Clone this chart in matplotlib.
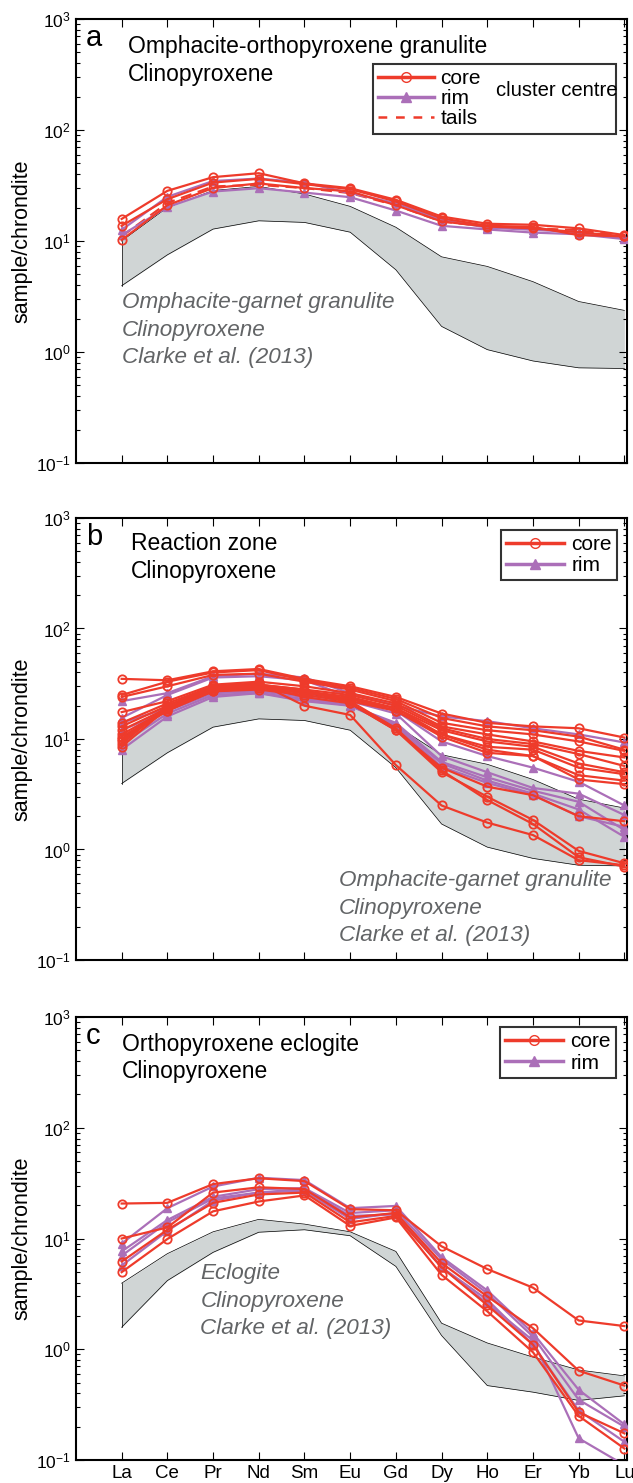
import numpy as np
import matplotlib
matplotlib.use('Agg')
import matplotlib.pyplot as plt
from matplotlib.lines import Line2D

plt.rcParams['font.family'] = ['Liberation Sans', 'DejaVu Sans']
plt.rcParams['mathtext.fontset'] = 'custom'
plt.rcParams['mathtext.rm'] = 'Liberation Sans'

elements = ['La', 'Ce', 'Pr', 'Nd', 'Sm', 'Eu', 'Gd', 'Dy', 'Ho', 'Er', 'Yb', 'Lu']

# Clarke et al. (2013) reference envelopes
granulite_hi = [10, 20, 28.5, 31, 26.5, 20.5, 13.3, 7.2, 5.9, 4.3, 2.85, 2.37]
granulite_lo = [3.95, 7.5, 12.8, 15.2, 14.7, 12.0, 5.5, 1.7, 1.05, 0.83, 0.72, 0.71]
eclogite_hi = [3.95, 7.3, 11.5, 14.9, 13.5, 11.5, 7.65, 1.72, 1.14, 0.85, 0.65, 0.575]
eclogite_lo = [1.58, 4.17, 7.5, 11.4, 12.0, 10.6, 5.6, 1.33, 0.47, 0.41, 0.345, 0.38]

# panel a: omphacite-orthopyroxene granulite (cluster centres and tails)
a_core = [
    [15.8, 28.3, 37.6, 40.8, 33, 29.9, 23.5, 16.6, 14.3, 14.0, 13.0, 11.3],
    [13.7, 23.8, 33.6, 36.3, 32.5, 29.3, 22.7, 16.0, 13.7, 13.4, 11.3, 11.0],
    [10.2, 21, 30, 33, 30, 28, 21, 15, 13.5, 13, 12, 11],
]
a_rim = [
    [12.6, 25, 34.7, 36.5, 33.6, 27, 21.9, 15.5, 13.2, 12.6, 12, 10.6],
    [11.3, 20.2, 27.9, 29.9, 27.3, 24.8, 18.8, 13.7, 12.7, 11.9, 11.5, 10.4],
]
a_tails = [11, 22, 31, 32, 30, 27, 21, 15, 13.5, 13, 12.5, 11]

# panel b: reaction zone
b_core = [
    [35, 34, 41, 43, 35, 30, 24, 17, 14, 13, 12.5, 10.3],
    [25, 33, 40, 42, 34, 29, 23, 15.5, 13, 12, 10.5, 8],
    [24, 30, 38, 39, 33, 28, 22, 14, 12, 11, 9.5, 7.8],
    [17.5, 22, 31, 33, 30, 26, 21, 13, 11, 9.5, 7.8, 6.8],
    [14, 21, 30, 31, 28, 25, 20, 12.5, 10, 9, 7.3, 5.7],
    [13, 20, 29, 30, 27, 24, 19, 12, 9.5, 8.5, 6, 5],
    [12, 19, 28, 30, 27, 23, 19, 11, 8.5, 8, 5.5, 4.8],
    [11, 18.5, 27, 29, 26, 23, 18, 11, 8, 7, 4.7, 4.2],
    [10, 18, 27, 28, 25, 22, 18, 10.5, 7.5, 7, 4.3, 3.9],
    [9.5, 19, 28, 30, 24, 21, 12, 5.5, 3.7, 3.1, 2.0, 1.8],
    [9, 20, 30, 32, 20, 16.5, 5.8, 2.5, 1.75, 1.35, 0.8, 0.72],
    [8.5, 19, 29, 31, 28, 21, 12, 5, 3, 1.85, 0.97, 0.75],
    [10.5, 18, 28, 31, 27, 22, 12.5, 5.2, 2.8, 1.7, 0.85, 0.7],
]
b_rim = [
    [22, 26, 37, 39, 36, 26, 20, 16, 14.5, 12.5, 11, 9.3],
    [15.5, 25, 36, 37, 34, 24, 18, 9.5, 7, 5.5, 4.1, 2.5],
    [14, 19, 27, 28, 25, 22, 17, 7, 5, 3.6, 3.2, 2.05],
    [12, 18, 26, 27, 24, 20, 14, 6.2, 4.5, 3.4, 2.7, 1.5],
    [9, 17, 25, 26, 23, 20, 13.5, 6, 4.2, 3.2, 2.3, 1.3],
    [8, 16, 24, 26, 22, 20, 13, 5.6, 4.0, 3.1, 2.0, 1.6],
]

# panel c: orthopyroxene eclogite
c_core = [
    [20.7, 21, 31, 35, 33, 18.4, 18, 8.5, 5.3, 3.6, 1.82, 1.62],
    [10, 12.6, 26, 29, 28, 15.5, 17, 6, 3, 1.55, 0.64, 0.47],
    [6.2, 12, 21, 25, 26, 14, 16, 5.5, 2.5, 1.1, 0.27, 0.174],
    [4.97, 9.9, 17.6, 21.6, 24.5, 13, 15.5, 4.7, 2.2, 0.94, 0.25, 0.127],
]
c_rim = [
    [9.0, 18.8, 29.5, 35.4, 33.7, 18.8, 19.7, 6.8, 3.4, 1.4, 0.43, 0.21],
    [7.65, 14.7, 23.8, 27.9, 28.5, 17, 18, 6.5, 3.2, 1.3, 0.35, 0.2],
    [5.7, 11.7, 22, 26, 27, 15, 17, 5.5, 2.8, 1.1, 0.28, 0.146],
    [7, 14, 23, 26, 28, 16, 16.5, 5.5, 2.6, 1.2, 0.157, 0.09],
]

red = '#ee3b2b'
purple = '#ab6fb8'
band_col = '#d0d5d5'
grey_txt = '#626466'
x = np.arange(len(elements))


def draw_lines(ax, cores, rims):
    for row in rims:
        ax.plot(x, row, color=purple, lw=1.6, marker='^', ms=6,
                mfc=purple, mec=purple, zorder=3)
    for row in cores:
        ax.plot(x, row, color=red, lw=1.6, marker='o', ms=6,
                mfc='none', mec=red, mew=1.3, zorder=4)


def italic_block(ax, x0, y0, lines):
    # three grey italic lines, 28 px apart
    for i, t in enumerate(lines):
        ax.text(x0, y0 - i * 0.0625, t, transform=ax.transAxes, fontsize=16.2,
                style='italic', color=grey_txt, va='center')


fig, axes = plt.subplots(3, 1, figsize=(6.33, 14.83), dpi=100)
positions = [[0.120, 0.6878, 0.870, 0.2994],
             [0.120, 0.3527, 0.870, 0.2980],
             [0.120, 0.0155, 0.870, 0.2987]]

for ax, pos in zip(axes, positions):
    ax.set_position(pos)
    ax.set_yscale('log')
    ax.set_ylim(0.1, 1000)
    ax.set_xlim(-1, 11.05)
    ax.set_xticks(x)
    ax.tick_params(which='both', direction='in', top=True, right=True,
                   labelsize=12.5, width=0.8)
    ax.tick_params(which='major', length=6)
    ax.tick_params(which='minor', length=3)
    ax.set_ylabel('sample/chrondite', fontsize=15.5, labelpad=3)
    for s in ax.spines.values():
        s.set_linewidth(1.5)

axes[0].set_xticklabels([])
axes[1].set_xticklabels([])
axes[2].set_xticklabels(elements, fontsize=13.5)

# envelopes
for ax, hi, lo in [(axes[0], granulite_hi, granulite_lo),
                   (axes[1], granulite_hi, granulite_lo),
                   (axes[2], eclogite_hi, eclogite_lo)]:
    ax.fill_between(x, lo, hi, color=band_col, lw=0, zorder=1)
    ax.plot(x, hi, color='k', lw=0.5, zorder=2)
    ax.plot(x, lo, color='k', lw=0.5, zorder=2)
    ax.plot([0, 0], [lo[0], hi[0]], color='k', lw=0.5, zorder=2)

handles = [Line2D([], [], color=red, lw=2.5, marker='o', ms=7, mfc='none', mec=red),
           Line2D([], [], color=purple, lw=2.5, marker='^', ms=7, mfc=purple, mec=purple),
           Line2D([], [], color=red, lw=1.8, ls=(0, (3.5, 3.5)))]
leg_kw = dict(frameon=True, fancybox=False, edgecolor='k',
              borderpad=0.25, borderaxespad=0, fontsize=15)

# panel a
ax = axes[0]
ax.plot(x, a_tails, color=red, lw=1.6, ls=(0, (5, 3)), zorder=3)
draw_lines(ax, a_core, a_rim)
ax.text(0.018, 0.958, 'a', transform=ax.transAxes, fontsize=21, va='center')
ax.text(0.095, 0.939, 'Omphacite-orthopyroxene granulite', transform=ax.transAxes,
        fontsize=16.5, va='center')
ax.text(0.095, 0.876, 'Clinopyroxene', transform=ax.transAxes, fontsize=16.5,
        va='center')
italic_block(ax, 0.083, 0.362, ['Omphacite-garnet granulite', 'Clinopyroxene',
                                'Clarke et al. (2013)'])
leg = ax.legend(handles, ['core', 'rim', 'tails'], loc='upper left',
                bbox_to_anchor=(0.539, 0.7375, 0.442, 0.161), mode='expand',
                handlelength=2.7, handletextpad=0.3, labelspacing=0.05, **leg_kw)
leg.get_frame().set_linewidth(1.5)
ax.text(10.84, 10 ** 2.36, 'cluster centre', fontsize=14.6, ha='right', va='center',
        zorder=6)

# panel b
ax = axes[1]
draw_lines(ax, b_core, b_rim)
ax.text(0.018, 0.958, 'b', transform=ax.transAxes, fontsize=21, va='center')
ax.text(0.100, 0.942, 'Reaction zone', transform=ax.transAxes, fontsize=16.5,
        va='center')
ax.text(0.100, 0.879, 'Clinopyroxene', transform=ax.transAxes, fontsize=16.5,
        va='center')
italic_block(ax, 0.477, 0.180, ['Omphacite-garnet granulite', 'Clinopyroxene',
                                'Clarke et al. (2013)'])
leg = ax.legend(handles[:2], ['core', 'rim'], loc='upper right',
                bbox_to_anchor=(0.983, 0.973), handlelength=2.8,
                handletextpad=0.35, labelspacing=0.1, **leg_kw)
leg.get_frame().set_linewidth(1.5)

# panel c
ax = axes[2]
draw_lines(ax, c_core, c_rim)
ax.text(0.018, 0.958, 'c', transform=ax.transAxes, fontsize=21, va='center')
ax.text(0.083, 0.937, 'Orthopyroxene eclogite', transform=ax.transAxes,
        fontsize=16.5, va='center')
ax.text(0.083, 0.876, 'Clinopyroxene', transform=ax.transAxes, fontsize=16.5,
        va='center')
italic_block(ax, 0.226, 0.421, ['Eclogite', 'Clinopyroxene', 'Clarke et al. (2013)'])
leg = ax.legend(handles[:2], ['core', 'rim'], loc='upper right',
                bbox_to_anchor=(0.981, 0.977), handlelength=2.8,
                handletextpad=0.35, labelspacing=0.1, **leg_kw)
leg.get_frame().set_linewidth(1.5)

fig.savefig('out.png', dpi=100)
